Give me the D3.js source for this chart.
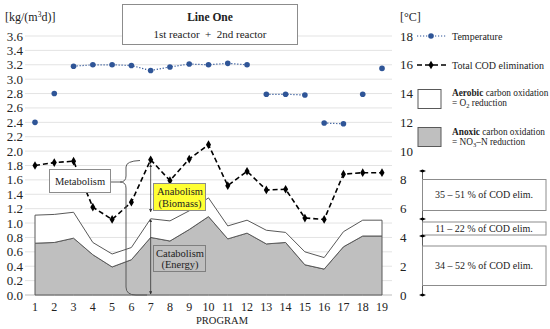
<!DOCTYPE html>
<html>
<head>
<meta charset="utf-8">
<script src="https://cdn.jsdelivr.net/npm/d3@7"></script>
<style>
  body { margin: 0; background: #fff; }
  svg text { font-family: "Liberation Serif", "Times New Roman", serif; fill: #222; }
</style>
</head>
<body>
<div id="chart"></div>
<script>
// program numbers on the x axis
const programs = d3.range(1, 20);
// left axis, kg/(m3 d)
const codElim = [1.80, 1.84, 1.86, 1.22, 1.05, 1.29, 1.88, 1.59, 1.89, 2.09, 1.52, 1.72, 1.46, 1.47, 1.07, 1.05, 1.68, 1.70, 1.70];
const anoxic  = [0.72, 0.73, 0.79, 0.56, 0.39, 0.49, 0.80, 0.75, 0.91, 1.09, 0.78, 0.86, 0.71, 0.73, 0.42, 0.36, 0.67, 0.82, 0.82];
const aerobic = [0.39, 0.39, 0.36, 0.17, 0.18, 0.17, 0.26, 0.28, 0.26, 0.26, 0.18, 0.18, 0.19, 0.14, 0.18, 0.16, 0.21, 0.22, 0.22];
// right axis, degrees C
const temperature = [12.0, 14.0, 15.9, 16.0, 16.0, 15.95, 15.6, 15.85, 16.05, 16.0, 16.1, 16.0, 13.95, 13.95, 13.9, 11.95, 11.9, 13.95, 15.75];
const leftTicks = d3.range(0, 3.61, 0.2);
const rightTicks = d3.range(0, 18.1, 2);
const shares = ["35 – 51 % of COD elim.", "11 – 22 % of COD elim.", "34 – 52 % of COD elim."];

const width = 550, height = 329;
const svg = d3.select("#chart").append("svg")
    .attr("width", width)
    .attr("height", height);

const x = d3.scalePoint().domain(programs).range([35, 382]);
const y = d3.scaleLinear().domain([0, 3.6]).range([295, 36]);
const yR = d3.scaleLinear().domain([0, 18]).range([295, 36]);

const rows = programs.map((p, i) => ({ p, anoxic: anoxic[i], aerobic: aerobic[i] }));
const stacked = d3.stack().keys(["anoxic", "aerobic"])(rows);

// arrow markers
const defs = svg.append("defs");
defs.append("marker")
    .attr("id", "arrowEnd")
    .attr("viewBox", "0 0 6 6")
    .attr("refX", 5).attr("refY", 3)
    .attr("markerWidth", 4).attr("markerHeight", 4)
    .attr("orient", "auto")
    .append("path").attr("d", "M0,0L6,3L0,6Z").attr("fill", "#333");
defs.append("marker")
    .attr("id", "arrowStart")
    .attr("viewBox", "0 0 6 6")
    .attr("refX", 1).attr("refY", 3)
    .attr("markerWidth", 4).attr("markerHeight", 4)
    .attr("orient", "auto")
    .append("path").attr("d", "M6,0L0,3L6,6Z").attr("fill", "#333");

// grid
svg.append("g")
    .selectAll("line")
    .data(leftTicks)
    .join("line")
    .attr("x1", 25).attr("x2", 392)
    .attr("y1", d => y(d)).attr("y2", d => y(d))
    .attr("stroke", d => d === 0 ? "#bbb" : "#e3e3e3")
    .attr("stroke-width", 1);

// left tick labels
svg.append("g")
    .selectAll("text")
    .data(leftTicks)
    .join("text")
    .attr("x", 23)
    .attr("y", d => y(d) + 4.5)
    .attr("text-anchor", "end")
    .style("font-size", "13px")
    .text(d3.format(".1f"));

// right tick labels
svg.append("g")
    .selectAll("text")
    .data(rightTicks)
    .join("text")
    .attr("x", 400)
    .attr("y", d => yR(d) + 4.5)
    .style("font-size", "13px")
    .text(d => d);

// x labels
svg.append("g")
    .selectAll("text")
    .data(programs)
    .join("text")
    .attr("x", d => x(d))
    .attr("y", 311)
    .attr("text-anchor", "middle")
    .style("font-size", "12px")
    .text(d => d);

svg.append("text").attr("x", 222).attr("y", 324).attr("text-anchor", "middle")
    .style("font-size", "10.5px").text("PROGRAM");

svg.append("text").attr("x", 5).attr("y", 21).style("font-size", "12px")
    .html('[kg/(m<tspan dy="-4" style="font-size:7.5px">3</tspan><tspan dy="4">d)]</tspan>');
svg.append("text").attr("x", 400).attr("y", 21).style("font-size", "12px").text("[°C]");

// stacked areas
const area = d3.area()
    .x(d => x(d.data.p))
    .y0(d => y(d[0]))
    .y1(d => y(d[1]));
svg.append("g")
    .selectAll("path")
    .data(stacked)
    .join("path")
    .attr("d", area)
    .attr("fill", (d, i) => i === 0 ? "#bfbfbf" : "#fff")
    .attr("stroke", "#595959")
    .attr("stroke-width", 1);

// total COD elimination
svg.append("path")
    .datum(codElim)
    .attr("d", d3.line().x((d, i) => x(programs[i])).y(d => y(d)))
    .attr("fill", "none")
    .attr("stroke", "#000")
    .attr("stroke-width", 1.6)
    .attr("stroke-dasharray", "5,3");
const diamond = d3.symbol().type(d3.symbolDiamond).size(22);
svg.append("g")
    .selectAll("path")
    .data(codElim)
    .join("path")
    .attr("d", diamond)
    .attr("transform", (d, i) => `translate(${x(programs[i])},${y(d)})`)
    .attr("fill", "#000");

// temperature: runs of the same set point are joined
const tempPts = temperature.map((t, i) => ({ p: programs[i], t }));
const runs = [];
tempPts.forEach((d, i) => {
    if (i > 0 && Math.abs(d.t - tempPts[i - 1].t) < 1) runs[runs.length - 1].push(d);
    else runs.push([d]);
});
svg.append("g")
    .selectAll("path")
    .data(runs.filter(r => r.length > 1))
    .join("path")
    .attr("d", d3.line().x(d => x(d.p)).y(d => yR(d.t)))
    .attr("fill", "none")
    .attr("stroke", "#2f5597")
    .attr("stroke-width", 1.2)
    .attr("stroke-dasharray", "1.2,1.8");
svg.append("g")
    .selectAll("circle")
    .data(tempPts)
    .join("circle")
    .attr("cx", d => x(d.p))
    .attr("cy", d => yR(d.t))
    .attr("r", 2.8)
    .attr("fill", "#2f5597");

// title box
svg.append("rect").attr("x", 122.5).attr("y", 4.5).attr("width", 175).attr("height", 40)
    .attr("fill", "#fff").attr("stroke", "#8c8c8c");
svg.append("text").attr("x", 210).attr("y", 21).attr("text-anchor", "middle")
    .style("font-size", "11.5px").style("font-weight", "bold").text("Line One");
svg.append("text").attr("x", 210).attr("y", 38).attr("text-anchor", "middle")
    .style("font-size", "11px").style("white-space", "pre")
    .text("1st reactor  +  2nd reactor");

// metabolism brace
const p7 = x(7);
svg.append("rect").attr("x", 49.5).attr("y", 169.5).attr("width", 61).attr("height", 23)
    .attr("fill", "#fff").attr("stroke", "#8c8c8c");
svg.append("text").attr("x", 80).attr("y", 185).attr("text-anchor", "middle")
    .style("font-size", "10.5px").text("Metabolism");
svg.append("path")
    .attr("d", "M111,182H120Q126,182 126,176V167Q126,161 140,160.5M120,182Q126,182 126,188V287Q126,295 136,295H147")
    .attr("fill", "none").attr("stroke", "#595959").attr("stroke-width", 1);

// anabolism / catabolism arrows
const topWhite = anoxic[6] + aerobic[6];
svg.append("line")
    .attr("x1", p7).attr("x2", p7)
    .attr("y1", y(codElim[6]) + 5).attr("y2", y(topWhite) - 7)
    .attr("stroke", "#333").attr("stroke-width", 0.8)
    .attr("marker-start", "url(#arrowStart)").attr("marker-end", "url(#arrowEnd)");
svg.append("line")
    .attr("x1", p7).attr("x2", p7)
    .attr("y1", y(topWhite) + 1).attr("y2", y(0) - 1)
    .attr("stroke", "#333").attr("stroke-width", 0.8)
    .attr("marker-start", "url(#arrowStart)").attr("marker-end", "url(#arrowEnd)");

svg.append("rect").attr("x", 153.5).attr("y", 183.5).attr("width", 52).attr("height", 27)
    .attr("fill", "#ffff33").attr("stroke", "#8c8c8c");
svg.append("text").attr("x", 180).attr("y", 195).attr("text-anchor", "middle")
    .style("font-size", "10.5px").text("Anabolism");
svg.append("text").attr("x", 180).attr("y", 207).attr("text-anchor", "middle")
    .style("font-size", "10.5px").text("(Biomass)");

svg.append("rect").attr("x", 153.5).attr("y", 245.5).attr("width", 52).attr("height", 26)
    .attr("fill", "#bfbfbf").attr("stroke", "#7f7f7f");
svg.append("text").attr("x", 180).attr("y", 257).attr("text-anchor", "middle")
    .style("font-size", "10.5px").text("Catabolism");
svg.append("text").attr("x", 180).attr("y", 268).attr("text-anchor", "middle")
    .style("font-size", "10.5px").text("(Energy)");

// legend
const lg = svg.append("g").style("font-size", "10px");
lg.append("line").attr("x1", 417).attr("x2", 446).attr("y1", 36).attr("y2", 36)
    .attr("stroke", "#2f5597").attr("stroke-width", 1.2).attr("stroke-dasharray", "1.2,1.8");
lg.append("circle").attr("cx", 431).attr("cy", 36).attr("r", 2.8).attr("fill", "#2f5597");
lg.append("text").attr("x", 452).attr("y", 39.5).text("Temperature");
lg.append("line").attr("x1", 417).attr("x2", 446).attr("y1", 65).attr("y2", 65)
    .attr("stroke", "#000").attr("stroke-width", 1.6).attr("stroke-dasharray", "5,3");
lg.append("path").attr("d", diamond).attr("transform", "translate(431,65)").attr("fill", "#000");
lg.append("text").attr("x", 452).attr("y", 68.5).text("Total COD elimination");
lg.append("rect").attr("x", 418).attr("y", 89.5).attr("width", 23).attr("height", 19)
    .attr("fill", "#fff").attr("stroke", "#595959");
lg.append("text").attr("x", 452).attr("y", 96).style("font-size", "9.3px")
    .html('<tspan style="font-weight:bold">Aerobic</tspan> carbon oxidation');
lg.append("text").attr("x", 452).attr("y", 106).style("font-size", "9.3px")
    .html('= O<tspan dy="2" style="font-size:6.5px">2</tspan><tspan dy="-2"> reduction</tspan>');
lg.append("rect").attr("x", 418).attr("y", 127.5).attr("width", 23).attr("height", 19)
    .attr("fill", "#bfbfbf").attr("stroke", "#595959");
lg.append("text").attr("x", 452).attr("y", 134.5).style("font-size", "9.3px")
    .html('<tspan style="font-weight:bold">Anoxic</tspan> carbon oxidation');
lg.append("text").attr("x", 452).attr("y", 144.5).style("font-size", "9.3px")
    .html('= NO<tspan dy="2" style="font-size:6.5px">3</tspan><tspan dy="-2">–N reduction</tspan>');

// share bracket on the right
const bx = 422.5;
svg.append("line").attr("x1", bx).attr("x2", bx).attr("y1", 171).attr("y2", 295)
    .attr("stroke", "#333").attr("stroke-width", 0.8);
const boxes = [[179, 210], [221.5, 234.5], [245.5, 285]];
svg.append("g")
    .selectAll("rect")
    .data(boxes)
    .join("rect")
    .attr("x", bx).attr("y", d => d[0] + 0.5)
    .attr("width", 123.5).attr("height", d => d[1] - d[0])
    .attr("fill", "#fff").attr("stroke", "#8c8c8c");
svg.append("g")
    .selectAll("text")
    .data(shares)
    .join("text")
    .attr("x", 484)
    .attr("y", (d, i) => (boxes[i][0] + boxes[i][1]) / 2 + 3.5)
    .attr("text-anchor", "middle")
    .style("font-size", "10px")
    .text(d => d);
svg.append("g")
    .selectAll("path")
    .data([171, 219, 236, 295])
    .join("path")
    .attr("d", d => `M${bx - 3.5},${d}L${bx},${d - 1.5}L${bx + 3.5},${d}L${bx},${d + 1.5}Z`)
    .attr("fill", "#000");
</script>
</body>
</html>
